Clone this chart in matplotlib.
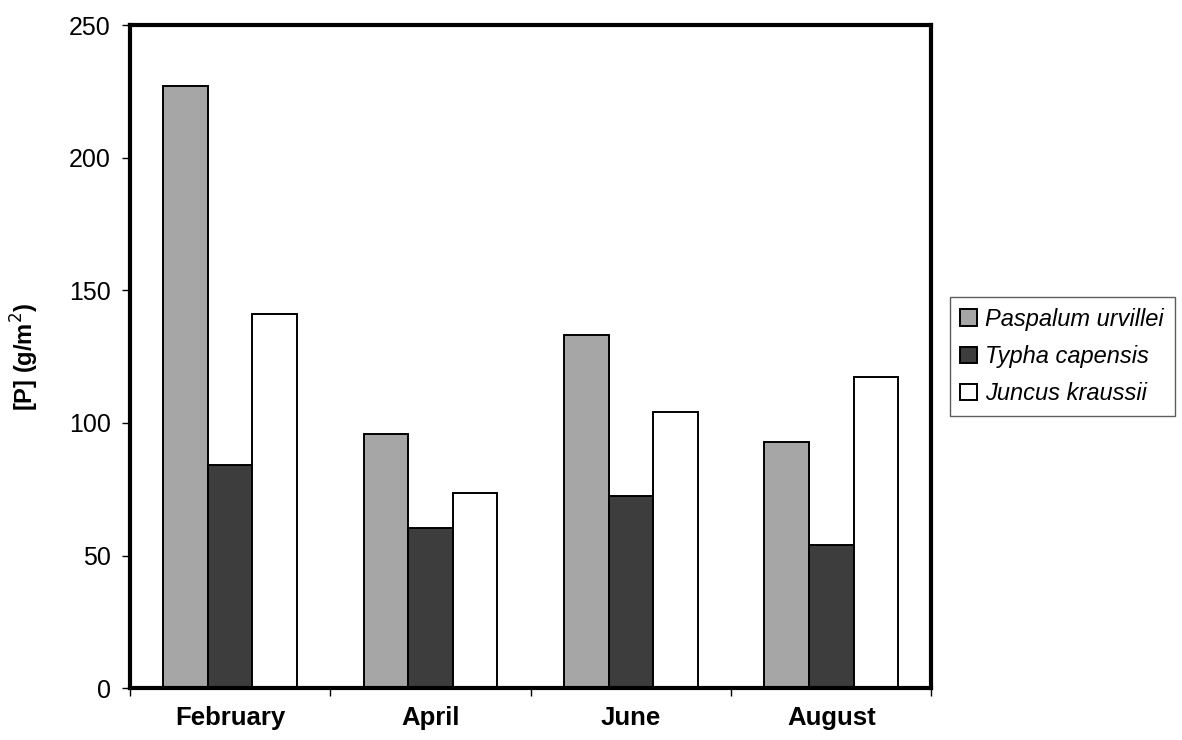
import matplotlib.pyplot as plt
import numpy as np

# Data
months = ['February', 'April', 'June', 'August']
species = ['Paspalum urvillei', 'Typha capensis', 'Juncus kraussii']
paspalum = [227, 96, 133, 93]
typha = [84, 60.5, 72.5, 54]
juncus = [141, 73.5, 104, 117.5]

plt.rcParams['font.family'] = ['Liberation Sans', 'DejaVu Sans']

fig = plt.figure(figsize=(11.82, 7.4), dpi=100)
ax = fig.add_axes([0.110, 0.070, 0.678, 0.896])

x = np.arange(len(months))
w = 1 / 4.5  # Excel gap width 150%
couleurs = ['#a6a6a6', '#3d3d3d', 'white']
series = [paspalum, typha, juncus]
for i, (vals, nom) in enumerate(zip(series, species)):
    ax.bar(x + (i - 1) * w, vals, width=w, color=couleurs[i],
           edgecolor='black', linewidth=1.4, label=nom, zorder=2)

ax.set_xlim(-0.5, len(months) - 0.5)
ax.set_ylim(0, 250)
ax.set_yticks(np.arange(0, 251, 50))

# tick marks between categories, labels centred on categories
ax.set_xticks(np.arange(-0.5, len(months), 1.0))
ax.set_xticklabels([])
ax.set_xticks(x, minor=True)
ax.set_xticklabels(months, minor=True, fontsize=18.5, fontweight='bold')
ax.tick_params(axis='x', which='minor', length=0, pad=13)
ax.tick_params(axis='x', which='major', length=6, width=1, direction='out')
ax.tick_params(axis='y', length=6, width=1, direction='out', labelsize=18, pad=8)

for s in ax.spines.values():
    s.set_linewidth(3)
    s.set_color('black')

ax.set_ylabel('[P] (g/m$^2$)', fontsize=17, fontweight='bold', labelpad=20)

leg = ax.legend(loc='center left', bbox_to_anchor=(1.023, 0.5), frameon=True,
                fancybox=False, edgecolor='#333333',
                prop={'style': 'italic', 'size': 17},
                handlelength=0.7, handleheight=0.7, handletextpad=0.35,
                labelspacing=0.6, borderpad=0.45, borderaxespad=0)
leg.get_frame().set_linewidth(1)

fig.savefig('out.png', dpi=100)
